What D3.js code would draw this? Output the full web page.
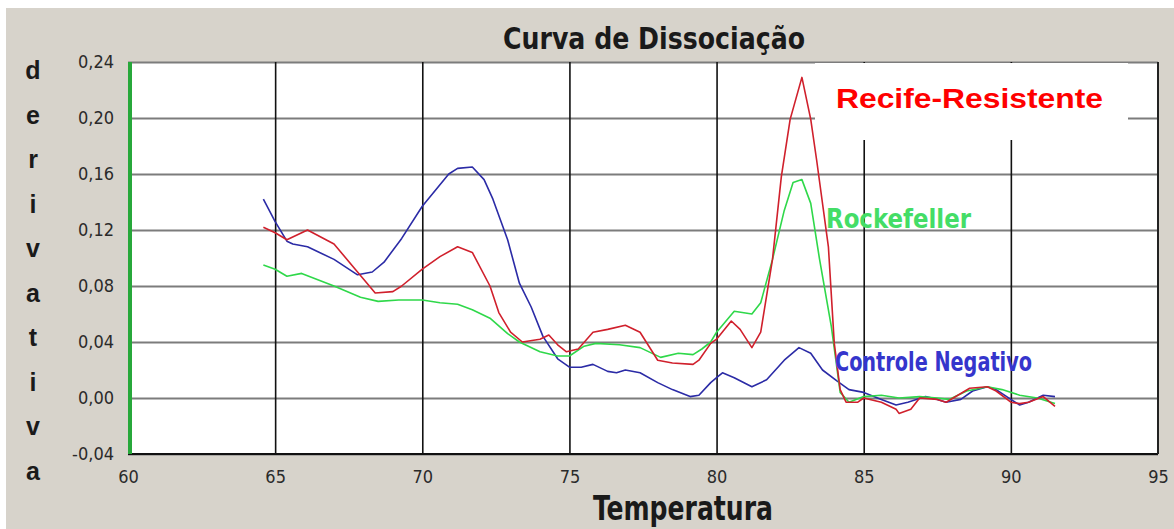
<!DOCTYPE html>
<html>
<head>
<meta charset="utf-8">
<script src="https://cdn.jsdelivr.net/npm/d3@7"></script>
<style>
  body { margin: 0; background: #fff; }
  svg { display: block; }
  .tick text { font-family: 'Liberation Sans Narrow', 'DejaVu Sans Condensed', sans-serif; fill: #2a2a2a; }
</style>
</head>
<body>
<div id="chart"></div>
<script>
// tick values on both axes
let xTicks = [60, 65, 70, 75, 80, 85, 90, 95]
let yTicks = [-0.04, 0, 0.04, 0.08, 0.12, 0.16, 0.20, 0.24]

// Controle Negativo (blue)
let controleTemp = [64.6, 65.0, 65.4, 65.6, 66.1, 67.0, 67.8, 68.3, 68.7, 69.3, 70.0, 70.9, 71.2, 71.7, 72.1, 72.4, 72.9, 73.3, 73.7, 74.1, 74.6, 75.0, 75.4, 75.8, 76.3, 76.6, 76.9, 77.4, 78.0, 78.5, 79.1, 79.4, 79.8, 80.0, 80.2, 80.6, 81.2, 81.7, 82.3, 82.8, 83.2, 83.6, 84.1, 84.5, 85.0, 85.6, 86.1, 86.5, 87.1, 87.5, 87.8, 88.3, 88.7, 89.2, 89.5, 90.0, 90.3, 90.6, 91.1, 91.5]
let controleDeriv = [0.142, 0.126, 0.112, 0.110, 0.108, 0.099, 0.088, 0.090, 0.097, 0.114, 0.137, 0.160, 0.164, 0.165, 0.156, 0.142, 0.113, 0.082, 0.065, 0.044, 0.028, 0.022, 0.022, 0.024, 0.019, 0.018, 0.020, 0.018, 0.011, 0.006, 0.001, 0.002, 0.011, 0.0145, 0.018, 0.0145, 0.008, 0.013, 0.027, 0.036, 0.032, 0.020, 0.012, 0.006, 0.004, -0.001, -0.005, -0.003, 0.001, -0.001, -0.003, -0.001, 0.005, 0.008, 0.006, -0.001, -0.005, -0.003, 0.002, 0.001]

// Recife-Resistente (red)
let recifeTemp = [64.6, 65.0, 65.4, 66.1, 67.0, 67.8, 68.4, 69.0, 69.3, 70.0, 70.6, 71.2, 71.7, 72.3, 72.6, 73.0, 73.4, 74.0, 74.3, 74.6, 74.9, 75.3, 75.8, 76.3, 76.9, 77.4, 78.0, 78.5, 79.2, 79.4, 79.8, 80.0, 80.5, 80.8, 81.2, 81.5, 81.9, 82.2, 82.5, 82.9, 83.2, 83.4, 83.8, 84.0, 84.2, 84.4, 84.8, 85.0, 85.6, 86.1, 86.2, 86.6, 86.9, 87.5, 87.8, 88.2, 88.6, 89.2, 89.5, 90.0, 90.3, 90.6, 91.1, 91.5]
let recifeDeriv = [0.122, 0.118, 0.113, 0.120, 0.110, 0.090, 0.075, 0.076, 0.080, 0.092, 0.101, 0.108, 0.104, 0.080, 0.061, 0.047, 0.040, 0.042, 0.045, 0.038, 0.033, 0.035, 0.047, 0.049, 0.052, 0.047, 0.027, 0.025, 0.024, 0.027, 0.039, 0.042, 0.055, 0.049, 0.036, 0.047, 0.099, 0.158, 0.199, 0.229, 0.199, 0.170, 0.108, 0.039, 0.006, -0.003, -0.003, 0.000, -0.003, -0.008, -0.011, -0.008, 0.000, -0.001, -0.003, 0.002, 0.007, 0.008, 0.005, -0.003, -0.004, -0.003, 0.001, -0.006]

// Rockefeller (green)
let rockTemp = [64.6, 65.0, 65.4, 65.9, 67.0, 67.9, 68.5, 69.2, 70.0, 70.6, 71.2, 71.7, 72.3, 72.9, 73.3, 74.0, 74.6, 75.0, 75.5, 75.9, 76.7, 77.4, 78.1, 78.7, 79.2, 79.5, 79.8, 80.0, 80.6, 81.2, 81.5, 81.9, 82.3, 82.6, 82.9, 83.2, 83.5, 83.9, 84.2, 84.5, 85.0, 85.6, 86.2, 86.9, 87.5, 87.9, 88.5, 89.2, 89.7, 90.3, 90.9, 91.5]
let rockDeriv = [0.095, 0.092, 0.087, 0.089, 0.080, 0.072, 0.069, 0.070, 0.070, 0.068, 0.067, 0.063, 0.057, 0.046, 0.040, 0.033, 0.030, 0.030, 0.037, 0.039, 0.038, 0.036, 0.029, 0.032, 0.031, 0.035, 0.040, 0.047, 0.062, 0.060, 0.068, 0.099, 0.134, 0.154, 0.156, 0.139, 0.099, 0.051, 0.004, -0.003, 0.001, 0.002, 0.000, 0.001, 0.000, -0.001, 0.005, 0.008, 0.006, 0.002, 0.000, -0.004]

let yLetters = ['d', 'e', 'r', 'i', 'v', 'a', 't', 'i', 'v', 'a']

let width = 1174
let height = 529
let plot = { left: 128, right: 1158, top: 62, bottom: 454 }

let svg = d3.select('#chart')
  .append('svg')
  .attr('width', width)
  .attr('height', height)

// panel background
svg.append('rect')
  .attr('x', 6).attr('y', 8)
  .attr('width', width - 6).attr('height', height - 8)
  .attr('fill', '#d7d3cb')

svg.append('rect')
  .attr('x', plot.left).attr('y', plot.top)
  .attr('width', plot.right - plot.left).attr('height', plot.bottom - plot.top)
  .attr('fill', '#fff')

let xPositionScale = d3.scaleLinear().domain([60, 95]).range([plot.left, plot.right])
let yPositionScale = d3.scaleLinear().domain([-0.04, 0.24]).range([plot.bottom, plot.top])

// comma decimals, plain hyphen for negatives
let commaFormat = d => d3.format('.2f')(d).replace('.', ',').replace('\u2212', '-')

// horizontal grid (gray)
let yGrid = d3.axisLeft(yPositionScale)
  .tickValues(yTicks)
  .tickSize(-(plot.right - plot.left))
  .tickFormat('')

svg.append('g')
  .attr('transform', 'translate(' + plot.left + ',0)')
  .call(yGrid)
  .call(g => g.select('.domain').remove())
  .call(g => g.selectAll('line').attr('stroke', '#7c7c7c').attr('stroke-width', 2))

// vertical grid (black)
let xGrid = d3.axisBottom(xPositionScale)
  .tickValues(xTicks.slice(1, -1))
  .tickSize(-(plot.bottom - plot.top))
  .tickFormat('')

svg.append('g')
  .attr('transform', 'translate(0,' + plot.bottom + ')')
  .call(xGrid)
  .call(g => g.select('.domain').remove())
  .call(g => g.selectAll('line').attr('stroke', '#111').attr('stroke-width', 1.6))

// plot border
svg.append('line')
  .attr('x1', plot.left).attr('x2', plot.right)
  .attr('y1', plot.bottom).attr('y2', plot.bottom)
  .attr('stroke', '#111').attr('stroke-width', 2)
svg.append('line')
  .attr('x1', plot.right).attr('x2', plot.right)
  .attr('y1', plot.top).attr('y2', plot.bottom)
  .attr('stroke', '#222').attr('stroke-width', 2)

// white box behind the red label
svg.append('rect')
  .attr('x', 815).attr('y', plot.top + 1)
  .attr('width', 313).attr('height', 77)
  .attr('fill', '#fff')

let series = [
  { temps: controleTemp, values: controleDeriv, color: '#2b2ba6' },
  { temps: rockTemp, values: rockDeriv, color: '#2fd84a' },
  { temps: recifeTemp, values: recifeDeriv, color: '#d0202c' }
]

let line = d3.line()
  .x(d => xPositionScale(d[0]))
  .y(d => yPositionScale(d[1]))

series.forEach(s => {
  svg.append('path')
    .datum(d3.zip(s.temps, s.values))
    .attr('fill', 'none')
    .attr('stroke', s.color)
    .attr('stroke-width', 1.6)
    .attr('stroke-linejoin', 'round')
    .attr('d', line)
})

// left green edge
svg.append('line')
  .attr('x1', plot.left + 2).attr('x2', plot.left + 2)
  .attr('y1', plot.top).attr('y2', plot.bottom)
  .attr('stroke', '#27a83a').attr('stroke-width', 4)

// axes labels
let yAxis = d3.axisLeft(yPositionScale)
  .tickValues(yTicks)
  .tickSize(0)
  .tickPadding(14)
  .tickFormat(commaFormat)

svg.append('g')
  .attr('transform', 'translate(' + plot.left + ',0)')
  .call(yAxis)
  .call(g => g.select('.domain').remove())
  .call(g => g.selectAll('text').attr('font-size', 18))

let xAxis = d3.axisBottom(xPositionScale)
  .tickValues(xTicks)
  .tickSize(0)
  .tickPadding(16)

svg.append('g')
  .attr('transform', 'translate(0,' + plot.bottom + ')')
  .call(xAxis)
  .call(g => g.select('.domain').remove())
  .call(g => g.selectAll('text').attr('font-size', 18))

// titles
let condensed = "'Liberation Sans Narrow', 'DejaVu Sans Condensed', sans-serif"

svg.append('text')
  .attr('x', 503).attr('y', 49)
  .attr('textLength', 302).attr('lengthAdjust', 'spacingAndGlyphs')
  .attr('font-family', condensed).attr('font-weight', 'bold')
  .attr('font-size', 30).attr('fill', '#1a1a1a')
  .text('Curva de Dissociação')

svg.append('text')
  .attr('x', 593).attr('y', 520)
  .attr('textLength', 180).attr('lengthAdjust', 'spacingAndGlyphs')
  .attr('font-family', condensed).attr('font-weight', 'bold')
  .attr('font-size', 33).attr('fill', '#1a1a1a')
  .text('Temperatura')

svg.append('g')
  .selectAll('text')
  .data(yLetters)
  .join('text')
  .attr('x', 33)
  .attr('y', (d, i) => 79 + i * 44.5)
  .attr('text-anchor', 'middle')
  .attr('font-family', 'Liberation Sans, Arial, sans-serif')
  .attr('font-weight', 'bold')
  .attr('font-size', 25)
  .attr('fill', '#1a1a1a')
  .text(d => d)

// series labels
svg.append('text')
  .attr('x', 836).attr('y', 108)
  .attr('textLength', 267).attr('lengthAdjust', 'spacingAndGlyphs')
  .attr('font-family', 'Liberation Sans, Arial, sans-serif').attr('font-weight', 'bold')
  .attr('font-size', 28).attr('fill', '#ff0000')
  .text('Recife-Resistente')

svg.append('text')
  .attr('x', 826).attr('y', 228)
  .attr('textLength', 145).attr('lengthAdjust', 'spacingAndGlyphs')
  .attr('font-family', condensed).attr('font-weight', 'bold')
  .attr('font-size', 27).attr('fill', '#44dd66')
  .text('Rockefeller')

svg.append('text')
  .attr('x', 835).attr('y', 371)
  .attr('textLength', 197).attr('lengthAdjust', 'spacingAndGlyphs')
  .attr('font-family', condensed).attr('font-weight', 'bold')
  .attr('font-size', 27).attr('fill', '#3535cc')
  .text('Controle Negativo')
</script>
</body>
</html>
